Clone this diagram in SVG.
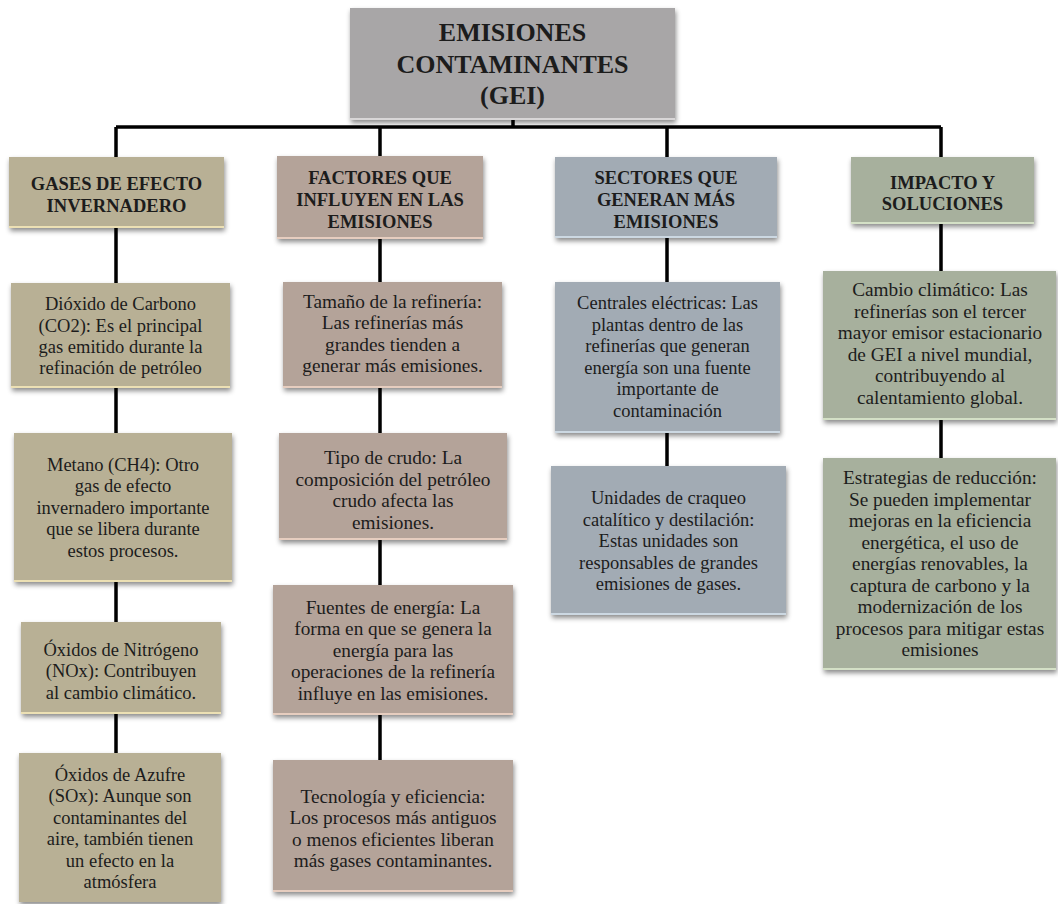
<svg xmlns="http://www.w3.org/2000/svg" width="1058" height="904" viewBox="0 0 1058 904">
<style>
  .t{font-family:"Liberation Serif","Times New Roman",serif;fill:#1c1c1c;text-anchor:middle}
  .title{font-size:26px;font-weight:bold}
  .hd{font-size:18.5px;font-weight:bold}
  .b1{font-size:18.5px}
  .b2{font-size:19.3px}
  .conn{stroke:#000;stroke-width:3.5;fill:none}
  .box{filter:url(#sh)}
  .c0{fill:#a8a6a7}
  .c1{fill:#b8b095}
  .c2{fill:#b4a399}
  .c3{fill:#a2abb4}
  .c4{fill:#a7b09d}
  .h0{stroke:#d8d6d7;stroke-width:2}
  .h1{stroke:#ece0b4;stroke-width:2}
  .h2{stroke:#e6cdbf;stroke-width:2}
  .h3{stroke:#ccd8e2;stroke-width:2}
  .h4{stroke:#d4e0c6;stroke-width:2}
</style>
<defs>
  <filter id="sh" x="-10%" y="-10%" width="125%" height="130%">
    <feDropShadow dx="1" dy="3" stdDeviation="2.5" flood-color="#000" flood-opacity="0.45"/>
  </filter>
</defs>
<rect width="1058" height="904" fill="#fff"/>

<g id="connectors">
  <path class="conn" d="M116 127 H941"/>
  <path class="conn" d="M513 120 V127"/>
  <path class="conn" d="M116 127 V157 M380 127 V156 M667 127 V157 M941 127 V157"/>
  <path class="conn" d="M116 228 V283 M116 388 V433 M116 582 V622 M116 714 V753"/>
  <path class="conn" d="M380 239 V282 M380 388 V433 M380 540 V585 M380 715 V760"/>
  <path class="conn" d="M667 238 V282 M667 433 V466"/>
  <path class="conn" d="M941 224 V271 M941 420 V458"/>
</g>

<g id="title">
  <rect class="box c0" x="350" y="8" width="325" height="112"/>
  <line class="h0" x1="350" y1="119" x2="675" y2="119"/>
  <text class="t title" x="512.5" y="41">EMISIONES</text>
  <text class="t title" x="512.5" y="73">CONTAMINANTES</text>
  <text class="t title" x="512.5" y="104">(GEI)</text>
</g>

<g id="h-gases">
  <rect class="box c1" x="9" y="157" width="215" height="71"/>
  <line class="h1" x1="9" y1="227" x2="224" y2="227"/>
  <text class="t hd" x="116.5" y="190">GASES DE EFECTO</text>
  <text class="t hd" x="116.5" y="212">INVERNADERO</text>
</g>
<g id="h-factores">
  <rect class="box c2" x="277" y="156" width="206" height="83"/>
  <line class="h2" x1="277" y1="238" x2="483" y2="238"/>
  <text class="t hd" x="380" y="184">FACTORES QUE</text>
  <text class="t hd" x="380" y="206">INFLUYEN EN LAS</text>
  <text class="t hd" x="380" y="228">EMISIONES</text>
</g>
<g id="h-sectores">
  <rect class="box c3" x="555" y="157" width="222" height="81"/>
  <line class="h3" x1="555" y1="237" x2="777" y2="237"/>
  <text class="t hd" x="666" y="184">SECTORES QUE</text>
  <text class="t hd" x="666" y="206">GENERAN MÁS</text>
  <text class="t hd" x="666" y="228">EMISIONES</text>
</g>
<g id="h-impacto">
  <rect class="box c4" x="851" y="157" width="183" height="67"/>
  <line class="h4" x1="851" y1="223" x2="1034" y2="223"/>
  <text class="t hd" x="942.5" y="189">IMPACTO Y</text>
  <text class="t hd" x="942.5" y="210">SOLUCIONES</text>
</g>

<g id="co2">
  <rect class="box c1" x="11" y="283" width="219" height="105"/>
  <line class="h1" x1="11" y1="387" x2="230" y2="387"/>
  <text class="t b1" x="120.5" y="310">Dióxido de Carbono</text>
  <text class="t b1" x="120.5" y="332">(CO2): Es el principal</text>
  <text class="t b1" x="120.5" y="353">gas emitido durante la</text>
  <text class="t b1" x="120.5" y="374">refinación de petróleo</text>
</g>
<g id="ch4">
  <rect class="box c1" x="14" y="433" width="218" height="149"/>
  <line class="h1" x1="14" y1="581" x2="232" y2="581"/>
  <text class="t b1" x="123" y="471">Metano (CH4): Otro</text>
  <text class="t b1" x="123" y="492">gas de efecto</text>
  <text class="t b1" x="123" y="514">invernadero importante</text>
  <text class="t b1" x="123" y="535">que se libera durante</text>
  <text class="t b1" x="123" y="557">estos procesos.</text>
</g>
<g id="nox">
  <rect class="box c1" x="21" y="622" width="200" height="92"/>
  <line class="h1" x1="21" y1="713" x2="221" y2="713"/>
  <text class="t b1" x="121" y="656">Óxidos de Nitrógeno</text>
  <text class="t b1" x="121" y="677">(NOx): Contribuyen</text>
  <text class="t b1" x="121" y="699">al cambio climático.</text>
</g>
<g id="sox">
  <rect class="box c1" x="19" y="753" width="202" height="149"/>
  <text class="t b1" x="120" y="781">Óxidos de Azufre</text>
  <text class="t b1" x="120" y="802">(SOx): Aunque son</text>
  <text class="t b1" x="120" y="824">contaminantes del</text>
  <text class="t b1" x="120" y="845">aire, también tienen</text>
  <text class="t b1" x="120" y="867">un efecto en la</text>
  <text class="t b1" x="120" y="888">atmósfera</text>
</g>

<g id="tamano">
  <rect class="box c2" x="283" y="282" width="219" height="106"/>
  <line class="h2" x1="283" y1="387" x2="502" y2="387"/>
  <text class="t b2" x="392.5" y="308">Tamaño de la refinería:</text>
  <text class="t b2" x="392.5" y="329">Las refinerías más</text>
  <text class="t b2" x="392.5" y="351">grandes tienden a</text>
  <text class="t b2" x="392.5" y="372">generar más emisiones.</text>
</g>
<g id="crudo">
  <rect class="box c2" x="279" y="433" width="228" height="107"/>
  <line class="h2" x1="279" y1="539" x2="507" y2="539"/>
  <text class="t b2" x="393" y="464">Tipo de crudo: La</text>
  <text class="t b2" x="393" y="486">composición del petróleo</text>
  <text class="t b2" x="393" y="507">crudo afecta las</text>
  <text class="t b2" x="393" y="529">emisiones.</text>
</g>
<g id="fuentes">
  <rect class="box c2" x="273" y="585" width="240" height="130"/>
  <line class="h2" x1="273" y1="714" x2="513" y2="714"/>
  <text class="t b2" x="393" y="614">Fuentes de energía: La</text>
  <text class="t b2" x="393" y="635">forma en que se genera la</text>
  <text class="t b2" x="393" y="657">energía para las</text>
  <text class="t b2" x="393" y="678">operaciones de la refinería</text>
  <text class="t b2" x="393" y="700">influye en las emisiones.</text>
</g>
<g id="tecnologia">
  <rect class="box c2" x="273" y="760" width="240" height="132"/>
  <line class="h2" x1="273" y1="891" x2="513" y2="891"/>
  <text class="t b2" x="393" y="803">Tecnología y eficiencia:</text>
  <text class="t b2" x="393" y="824">Los procesos más antiguos</text>
  <text class="t b2" x="393" y="846">o menos eficientes liberan</text>
  <text class="t b2" x="393" y="867">más gases contaminantes.</text>
</g>

<g id="centrales">
  <rect class="box c3" x="555" y="282" width="225" height="151"/>
  <line class="h3" x1="555" y1="432" x2="780" y2="432"/>
  <text class="t b1" x="667.5" y="309">Centrales eléctricas: Las</text>
  <text class="t b1" x="667.5" y="331">plantas dentro de las</text>
  <text class="t b1" x="667.5" y="352">refinerías que generan</text>
  <text class="t b1" x="667.5" y="374">energía son una fuente</text>
  <text class="t b1" x="667.5" y="395">importante de</text>
  <text class="t b1" x="667.5" y="417">contaminación</text>
</g>
<g id="craqueo">
  <rect class="box c3" x="551" y="466" width="235" height="149"/>
  <line class="h3" x1="551" y1="614" x2="786" y2="614"/>
  <text class="t b1" x="668.5" y="504">Unidades de craqueo</text>
  <text class="t b1" x="668.5" y="526">catalítico y destilación:</text>
  <text class="t b1" x="668.5" y="547">Estas unidades son</text>
  <text class="t b1" x="668.5" y="569">responsables de grandes</text>
  <text class="t b1" x="668.5" y="590">emisiones de gases.</text>
</g>

<g id="cambio">
  <rect class="box c4" x="823" y="271" width="233" height="149"/>
  <line class="h4" x1="823" y1="419" x2="1056" y2="419"/>
  <text class="t b2" x="940" y="296">Cambio climático: Las</text>
  <text class="t b2" x="940" y="318">refinerías son el tercer</text>
  <text class="t b2" x="940" y="339">mayor emisor estacionario</text>
  <text class="t b2" x="940" y="361">de GEI a nivel mundial,</text>
  <text class="t b2" x="940" y="382">contribuyendo al</text>
  <text class="t b2" x="940" y="404">calentamiento global.</text>
</g>
<g id="estrategias">
  <rect class="box c4" x="823" y="458" width="233" height="212"/>
  <line class="h4" x1="823" y1="669" x2="1056" y2="669"/>
  <text class="t b2" x="940" y="484">Estrategias de reducción:</text>
  <text class="t b2" x="940" y="506">Se pueden implementar</text>
  <text class="t b2" x="940" y="527">mejoras en la eficiencia</text>
  <text class="t b2" x="940" y="549">energética, el uso de</text>
  <text class="t b2" x="940" y="570">energías renovables, la</text>
  <text class="t b2" x="940" y="592">captura de carbono y la</text>
  <text class="t b2" x="940" y="613">modernización de los</text>
  <text class="t b2" x="940" y="635">procesos para mitigar estas</text>
  <text class="t b2" x="940" y="656">emisiones</text>
</g>
</svg>
